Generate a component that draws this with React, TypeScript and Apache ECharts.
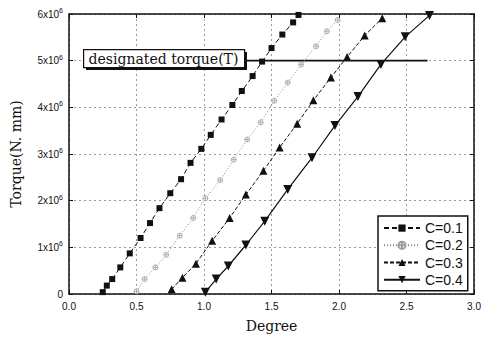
import React, { useEffect, useRef } from "react";
import * as echarts from "echarts";

// Degree (x) and torque (y, in units of 10^6 N·mm)
const C01_DEG = [0.25, 0.28, 0.32, 0.38, 0.45, 0.53, 0.6, 0.67, 0.75, 0.83, 0.9, 0.98, 1.05, 1.13, 1.21, 1.28, 1.36, 1.43, 1.5, 1.58, 1.66, 1.7];
const C01_TORQUE = [0.04, 0.18, 0.32, 0.57, 0.87, 1.2, 1.52, 1.84, 2.16, 2.46, 2.81, 3.11, 3.41, 3.74, 4.05, 4.35, 4.67, 4.98, 5.27, 5.56, 5.82, 5.98];

const C02_DEG = [0.5, 0.56, 0.64, 0.72, 0.82, 0.92, 1.01, 1.12, 1.22, 1.32, 1.42, 1.52, 1.62, 1.72, 1.83, 1.91, 1.99];
const C02_TORQUE = [0.06, 0.32, 0.57, 0.84, 1.25, 1.63, 2.05, 2.44, 2.88, 3.31, 3.68, 4.14, 4.53, 4.92, 5.31, 5.63, 5.87];

const C03_DEG = [0.76, 0.84, 0.94, 1.06, 1.19, 1.31, 1.44, 1.56, 1.69, 1.81, 1.94, 2.06, 2.19, 2.32];
const C03_TORQUE = [0.1, 0.35, 0.65, 1.14, 1.63, 2.13, 2.64, 3.14, 3.65, 4.15, 4.64, 5.08, 5.54, 5.91];

const C04_DEG = [1.01, 1.09, 1.18, 1.31, 1.45, 1.62, 1.8, 1.97, 2.14, 2.31, 2.49, 2.67];
const C04_TORQUE = [0.04, 0.32, 0.6, 1.05, 1.56, 2.24, 2.92, 3.61, 4.23, 4.92, 5.51, 5.97];

const SERIES_NAMES = ["C=0.1", "C=0.2", "C=0.3", "C=0.4"];
const DESIGNATED_TORQUE = 5;
const DESIGNATED_DEG = [1.28, 2.655];
const DESIGNATED_LABEL = "designated torque(T)";

const X_MIN = 0, X_MAX = 3, X_STEP = 0.5;
const Y_MIN = 0, Y_MAX = 6, Y_STEP = 1;

const zip = (xs: number[], ys: number[]) => xs.map((x, i) => [x, ys[i]]);

const crossCircle = "path://M0,-5A5,5 0 1,1 0,5A5,5 0 1,1 0,-5Z M-5,0L5,0 M0,-5L0,5";

export default function App() {
  const ref = useRef<HTMLDivElement>(null);
  useEffect(() => {
    if (!ref.current) return;
    const chart = echarts.init(ref.current, undefined, { renderer: "svg" });
    const gridLine = { show: true, lineStyle: { color: "#9a9a9a", type: [2, 3] as any, width: 1 } };
    const axisCommon = {
      axisLine: { show: true, onZero: false, lineStyle: { color: "#111", width: 1.5 } },
      axisTick: { show: true, inside: true, length: 4, lineStyle: { color: "#111" } },
    };
    chart.setOption({
      animation: false,
      backgroundColor: "#fff",
      grid: { left: 69, right: 6, top: 14, bottom: 41, containLabel: false },
      xAxis: [
        {
          type: "value", min: X_MIN, max: X_MAX, interval: X_STEP, position: "bottom",
          ...axisCommon,
          splitLine: gridLine,
          axisLabel: { color: "#111", fontSize: 10, fontFamily: "Liberation Sans", margin: 7, formatter: (v: number) => v.toFixed(1) },
          name: "Degree", nameLocation: "middle", nameGap: 25,
          nameTextStyle: { color: "#111", fontSize: 14, fontFamily: "DejaVu Serif" },
        },
        {
          type: "value", min: X_MIN, max: X_MAX, interval: X_STEP, position: "top",
          ...axisCommon, splitLine: { show: false }, axisLabel: { show: false },
        },
      ],
      yAxis: [
        {
          type: "value", min: Y_MIN, max: Y_MAX, interval: Y_STEP, position: "left",
          ...axisCommon,
          splitLine: gridLine,
          axisLabel: {
            color: "#111", fontSize: 10, fontFamily: "Liberation Sans", margin: 6,
            formatter: (v: number) => (v === 0 ? "{a|0}" : `{a|${v}x10}{b|6}`),
            rich: {
              a: { fontSize: 10, fontFamily: "Liberation Sans", color: "#111" },
              b: { fontSize: 7, fontFamily: "Liberation Sans", color: "#111", padding: [0, 0, 7, 0] },
            },
          },
          name: "Torque(N. mm)", nameLocation: "middle", nameGap: 46,
          nameTextStyle: { color: "#111", fontSize: 14, fontFamily: "DejaVu Serif" },
        },
        {
          type: "value", min: Y_MIN, max: Y_MAX, interval: Y_STEP, position: "right",
          ...axisCommon, splitLine: { show: false }, axisLabel: { show: false },
        },
      ],
      legend: {
        data: SERIES_NAMES,
        orient: "vertical",
        left: 378, top: 216,
        padding: [5, 5, 4, 5],
        itemWidth: 36, itemHeight: 9, itemGap: 3,
        borderColor: "#111", borderWidth: 1.5, backgroundColor: "#fff",
        textStyle: { fontSize: 14, fontFamily: "Liberation Sans", color: "#111", lineHeight: 14.2 },
      },
      series: [
        {
          name: SERIES_NAMES[0], type: "line", data: zip(C01_DEG, C01_TORQUE),
          symbol: "rect", symbolSize: 6, z: 3,
          itemStyle: { color: "#111" }, lineStyle: { color: "#111", width: 1, type: [5, 3] as any },
        },
        {
          name: SERIES_NAMES[1], type: "line", data: zip(C02_DEG, C02_TORQUE),
          symbol: crossCircle, symbolSize: 5, z: 3,
          itemStyle: { color: "#fff", borderColor: "#a0a0a0", borderWidth: 0.8 },
          lineStyle: { color: "#8a8a8a", width: 1, type: [1, 2] as any },
        },
        {
          name: SERIES_NAMES[2], type: "line", data: zip(C03_DEG, C03_TORQUE),
          symbol: "triangle", symbolSize: 8, z: 3,
          itemStyle: { color: "#111" }, lineStyle: { color: "#111", width: 1, type: [4, 2] as any },
        },
        {
          name: SERIES_NAMES[3], type: "line", data: zip(C04_DEG, C04_TORQUE),
          symbol: "triangle", symbolRotate: 180, symbolSize: 9, z: 3,
          itemStyle: { color: "#111" }, lineStyle: { color: "#111", width: 1.2, type: "solid" },
        },
        {
          name: "designated", type: "line", data: DESIGNATED_DEG.map((d) => [d, DESIGNATED_TORQUE]),
          symbol: "none", z: 2, silent: true,
          lineStyle: { color: "#111", width: 1.6 },
        },
      ],
      graphic: [
        { type: "rect", left: 86, top: 52, shape: { width: 161, height: 18 }, style: { fill: "#111" }, z: 10 },
        { type: "rect", left: 83, top: 49, shape: { width: 161, height: 18 }, style: { fill: "#fff", stroke: "#111", lineWidth: 1.2 }, z: 11 },
        {
          type: "text", x: 163.5, y: 58.5, z: 12,
          style: { text: DESIGNATED_LABEL, fontSize: 14, fontFamily: "DejaVu Serif", fill: "#111", align: "center", verticalAlign: "middle" },
        },
      ],
    });
    return () => chart.dispose();
  }, []);
  return <div ref={ref} style={{ position: "fixed", left: 0, top: 0, width: 484, height: 338, background: "#fff" }} />;
}
